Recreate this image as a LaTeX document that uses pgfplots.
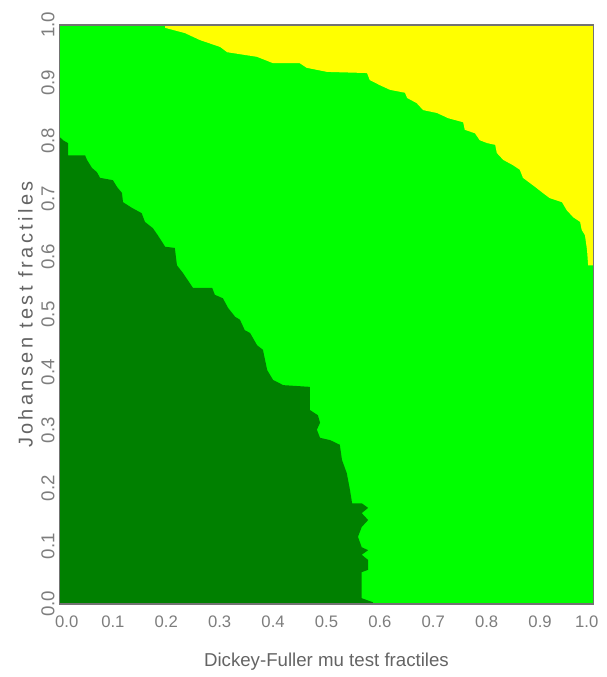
\documentclass[border=0pt]{standalone}
\usepackage{fontspec}
\setmainfont{Liberation Sans}
\usepackage{pgfplots}
\pgfplotsset{compat=1.18}
\definecolor{brightgreen}{RGB}{0,255,0}
\definecolor{dkgreen}{RGB}{0,128,0}
\definecolor{yel}{RGB}{255,255,0}
\definecolor{txt}{RGB}{125,125,125}
\begin{document}
\begin{tikzpicture}
\begin{axis}[
  scale only axis,
  width=400.5pt, height=434.25pt,
  xmin=0, xmax=1, ymin=0, ymax=1,
  axis on top,
  axis background/.style={fill=brightgreen},
  axis line style={line width=0.8pt, black!55},
  major tick length=0pt,
  xtick={0,0.1,0.2,0.3,0.4,0.5,0.6,0.7,0.8,0.9,1},
  ytick={0,0.1,0.2,0.3,0.4,0.5,0.6,0.7,0.8,0.9,1},
  xticklabels={{\hspace*{11pt}0.0},0.1,0.2,0.3,0.4,0.5,0.6,0.7,0.8,0.9,{1.0\hspace*{10pt}}},
  yticklabels={0.0,0.1,0.2,0.3,0.4,0.5,0.6,0.7,0.8,0.9,1.0},
  xticklabel style={font=\fontsize{12.5pt}{14pt}\selectfont, text=txt, anchor=center, yshift=-13.5pt},
  yticklabel style={font=\fontsize{14pt}{16pt}\selectfont, text=txt, rotate=90, anchor=center, yshift=8.6pt},
  xlabel={Dickey-Fuller mu test fractiles},
  ylabel={Johansen test fractiles},
  xlabel style={font=\fontsize{14pt}{16pt}\selectfont, text=txt!80!black, at={(rel axis cs:0.5,0)}, anchor=center, yshift=-43.5pt},
  ylabel style={font=\fontsize{15pt}{17pt}\selectfont\addfontfeatures{LetterSpace=17}, text=txt!80!black, at={(rel axis cs:0,0.5)}, anchor=center, yshift=25.5pt},
]
% dark green region (lower left)
\addplot[fill=dkgreen, draw=none] coordinates {
(0,0.807) (0.0066,0.801) (0.016,0.796) (0.016,0.775) (0.048,0.775)
(0.0515,0.767) (0.061,0.753) (0.070,0.746) (0.076,0.736) (0.100,0.732)
(0.108,0.720) (0.117,0.710) (0.119,0.694) (0.136,0.684) (0.154,0.675)
(0.160,0.660) (0.175,0.649) (0.184,0.637) (0.198,0.617) (0.216,0.615)
(0.220,0.585) (0.231,0.572) (0.250,0.546) (0.286,0.546) (0.291,0.534)
(0.306,0.528) (0.316,0.511) (0.329,0.496) (0.338,0.491) (0.347,0.473)
(0.357,0.468) (0.370,0.447) (0.381,0.439) (0.389,0.404) (0.400,0.387)
(0.419,0.378) (0.469,0.375) (0.469,0.335) (0.484,0.326) (0.488,0.313)
(0.482,0.301) (0.488,0.287) (0.507,0.283) (0.525,0.275) (0.529,0.249)
(0.538,0.226) (0.544,0.197) (0.548,0.174) (0.566,0.174) (0.578,0.166)
(0.566,0.157) (0.578,0.145) (0.566,0.133) (0.559,0.116) (0.566,0.098)
(0.578,0.093) (0.566,0.085) (0.578,0.076) (0.578,0.059) (0.566,0.055)
(0.566,0.010) (0.587,0.003) (0.587,0) (0,0)
} -- cycle;
% yellow region (upper right)
\addplot[fill=yel, draw=none] coordinates {
(0.198,1) (0.198,0.995) (0.235,0.986) (0.263,0.974) (0.301,0.962)
(0.314,0.953) (0.370,0.945) (0.400,0.934) (0.450,0.934) (0.463,0.926)
(0.501,0.919) (0.576,0.917) (0.581,0.905) (0.600,0.896) (0.619,0.888)
(0.647,0.883) (0.651,0.874) (0.669,0.865) (0.681,0.853) (0.707,0.848)
(0.728,0.839) (0.756,0.832) (0.759,0.819) (0.778,0.813) (0.787,0.801)
(0.801,0.796) (0.816,0.793) (0.819,0.779) (0.831,0.767) (0.849,0.758)
(0.862,0.750) (0.868,0.736) (0.881,0.727) (0.894,0.718) (0.905,0.710)
(0.918,0.701) (0.941,0.694) (0.950,0.680) (0.962,0.668) (0.975,0.660)
(0.978,0.646) (0.984,0.637) (0.988,0.611) (0.990,0.585) (1,0.585)
(1,1)
} -- cycle;
\coordinate (sw) at (rel axis cs:0,0);
\coordinate (ne) at (rel axis cs:1,1);
\end{axis}
\pgfresetboundingbox
\path ([shift={(-44.6pt,-54.75pt)}]sw) rectangle ([shift={(10.1pt,18.75pt)}]ne);
\end{tikzpicture}
\end{document}
